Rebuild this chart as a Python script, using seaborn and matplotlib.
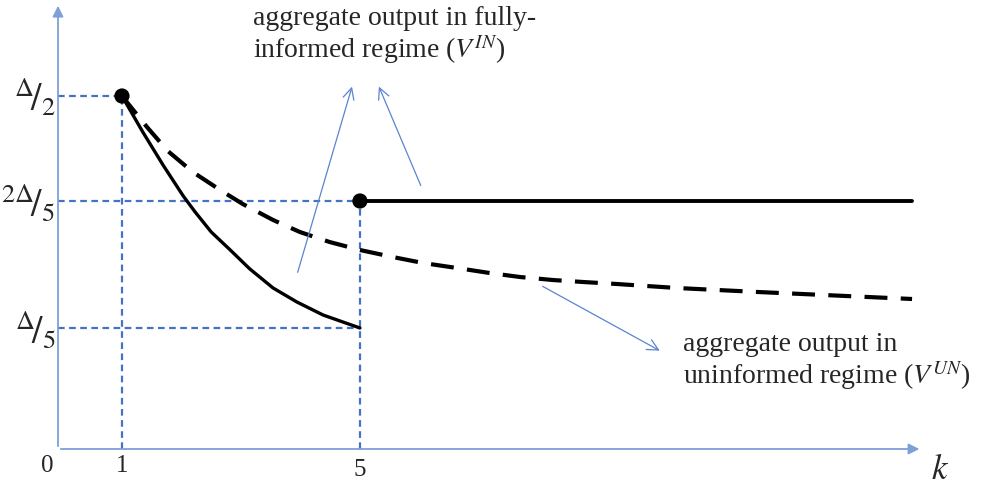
import matplotlib
matplotlib.use("Agg")
import matplotlib.pyplot as plt
import seaborn as sns

# schematic values (k on x, height on y with x-axis at 0)
k_start, k_switch, k_end = 1.0, 5.0, 14.28
y_half, y_two_fifth, y_fifth = 3.53, 2.48, 1.21

# fully-informed output below the switch point (solid curve)
k_in = [1.00, 1.35, 1.69, 2.03, 2.23, 2.50, 2.82, 3.15, 3.54, 3.94, 4.38, 5.00]
v_in = [3.53, 3.17, 2.84, 2.53, 2.37, 2.17, 1.99, 1.80, 1.61, 1.47, 1.34, 1.21]

# fully-informed output from the switch point on (flat)
k_in_flat = [5.0, 14.28]
v_in_flat = [2.48, 2.48]

# uninformed output (dashed curve)
k_un = [1.00, 1.42, 1.77, 2.19, 2.65, 3.03, 3.54, 3.99, 4.49, 5.00, 5.55, 6.06,
        6.63, 7.18, 7.69, 8.24, 8.75, 9.32, 9.82, 10.33, 11.69, 14.28]
v_un = [3.53, 3.22, 2.98, 2.77, 2.59, 2.45, 2.29, 2.17, 2.07, 1.99, 1.92, 1.86,
        1.81, 1.76, 1.72, 1.69, 1.67, 1.65, 1.63, 1.61, 1.57, 1.50]

dot_k = [1.0, 5.0]
dot_v = [3.53, 2.48]

y_tick_vals = [y_half, y_two_fifth, y_fifth]
y_tick_labels = [r"$^{\Delta}\!/_{2}$", r"$^{2\Delta}\!/_{5}$", r"$^{\Delta}\!/_{5}$"]

label_in = "aggregate output in fully-\ninformed regime ($V^{IN}$)"
label_un = "aggregate output in\nuninformed regime ($V^{UN}$)"

sns.set_style("white")
plt.rcParams["font.family"] = ["Liberation Serif", "DejaVu Serif"]
plt.rcParams["mathtext.fontset"] = "stix"

fig = plt.figure(figsize=(9.9, 4.9), dpi=100)
ax = fig.add_axes([0, 0, 1, 1])
ax.set_xlim(-1.05, 15.59)
ax.set_ylim(-0.41, 4.49)
ax.axis("off")

axis_col = "#7f9fd9"
guide_col = "#4472c4"
x0 = -0.075

# axes with arrow heads
ax.annotate("", xy=(14.45, 0), xytext=(x0, 0),
            arrowprops=dict(arrowstyle="-|>", color=axis_col, lw=1.3, mutation_scale=16))
ax.annotate("", xy=(x0, 4.46), xytext=(x0, 0),
            arrowprops=dict(arrowstyle="-|>", color=axis_col, lw=1.3, mutation_scale=16))

# dashed guide lines
gkw = dict(color=guide_col, lw=1.6, linestyles=(0, (3.0, 2.0)), zorder=1)
ax.hlines(y_half, x0, k_start, **gkw)
ax.hlines(y_two_fifth, x0, k_switch, **gkw)
ax.hlines(y_fifth, x0, k_switch, **gkw)
ax.vlines(k_start, 0, y_half, **gkw)
ax.vlines(k_switch, 0, y_two_fifth, **gkw)

# curves
sns.lineplot(x=k_in, y=v_in, ax=ax, color="black", lw=2.4, zorder=3,
             solid_joinstyle="round")
sns.lineplot(x=k_in_flat, y=v_in_flat, ax=ax, color="black", lw=2.8, zorder=3)
sns.lineplot(x=k_un, y=v_un, ax=ax, color="black", lw=3.0,
             linestyle=(0, (5.5, 3.2)), zorder=3)
sns.scatterplot(x=dot_k, y=dot_v, ax=ax, color="black", s=120, edgecolor="none", zorder=4)

# tick labels
ax.text(-0.26, -0.17, "0", fontsize=18, ha="center", va="center")
ax.text(1.0, -0.17, "1", fontsize=18, ha="center", va="center")
ax.text(5.0, -0.21, "5", fontsize=18, ha="center", va="center")
ax.text(14.75, -0.21, "$k$", fontsize=25, ha="center", va="center")
for v, lab in zip(y_tick_vals, y_tick_labels):
    ax.text(-0.11, v - 0.02, lab, fontsize=27, ha="right", va="center")

# annotations
ax.text(3.21, 4.43, label_in, fontsize=20, ha="left", va="top", linespacing=1.08)
ax.text(10.43, 1.17, label_un, fontsize=20, ha="left", va="top", linespacing=1.08)

akw = dict(arrowstyle="->", color="#5b84d0", lw=0.9, mutation_scale=20)
ax.annotate("", xy=(4.88, 3.65), xytext=(3.94, 1.74), arrowprops=akw)
ax.annotate("", xy=(5.30, 3.65), xytext=(6.04, 2.61), arrowprops=akw)
ax.annotate("", xy=(10.08, 0.97), xytext=(8.03, 1.64), arrowprops=akw)

fig.savefig("out.png", dpi=100)
